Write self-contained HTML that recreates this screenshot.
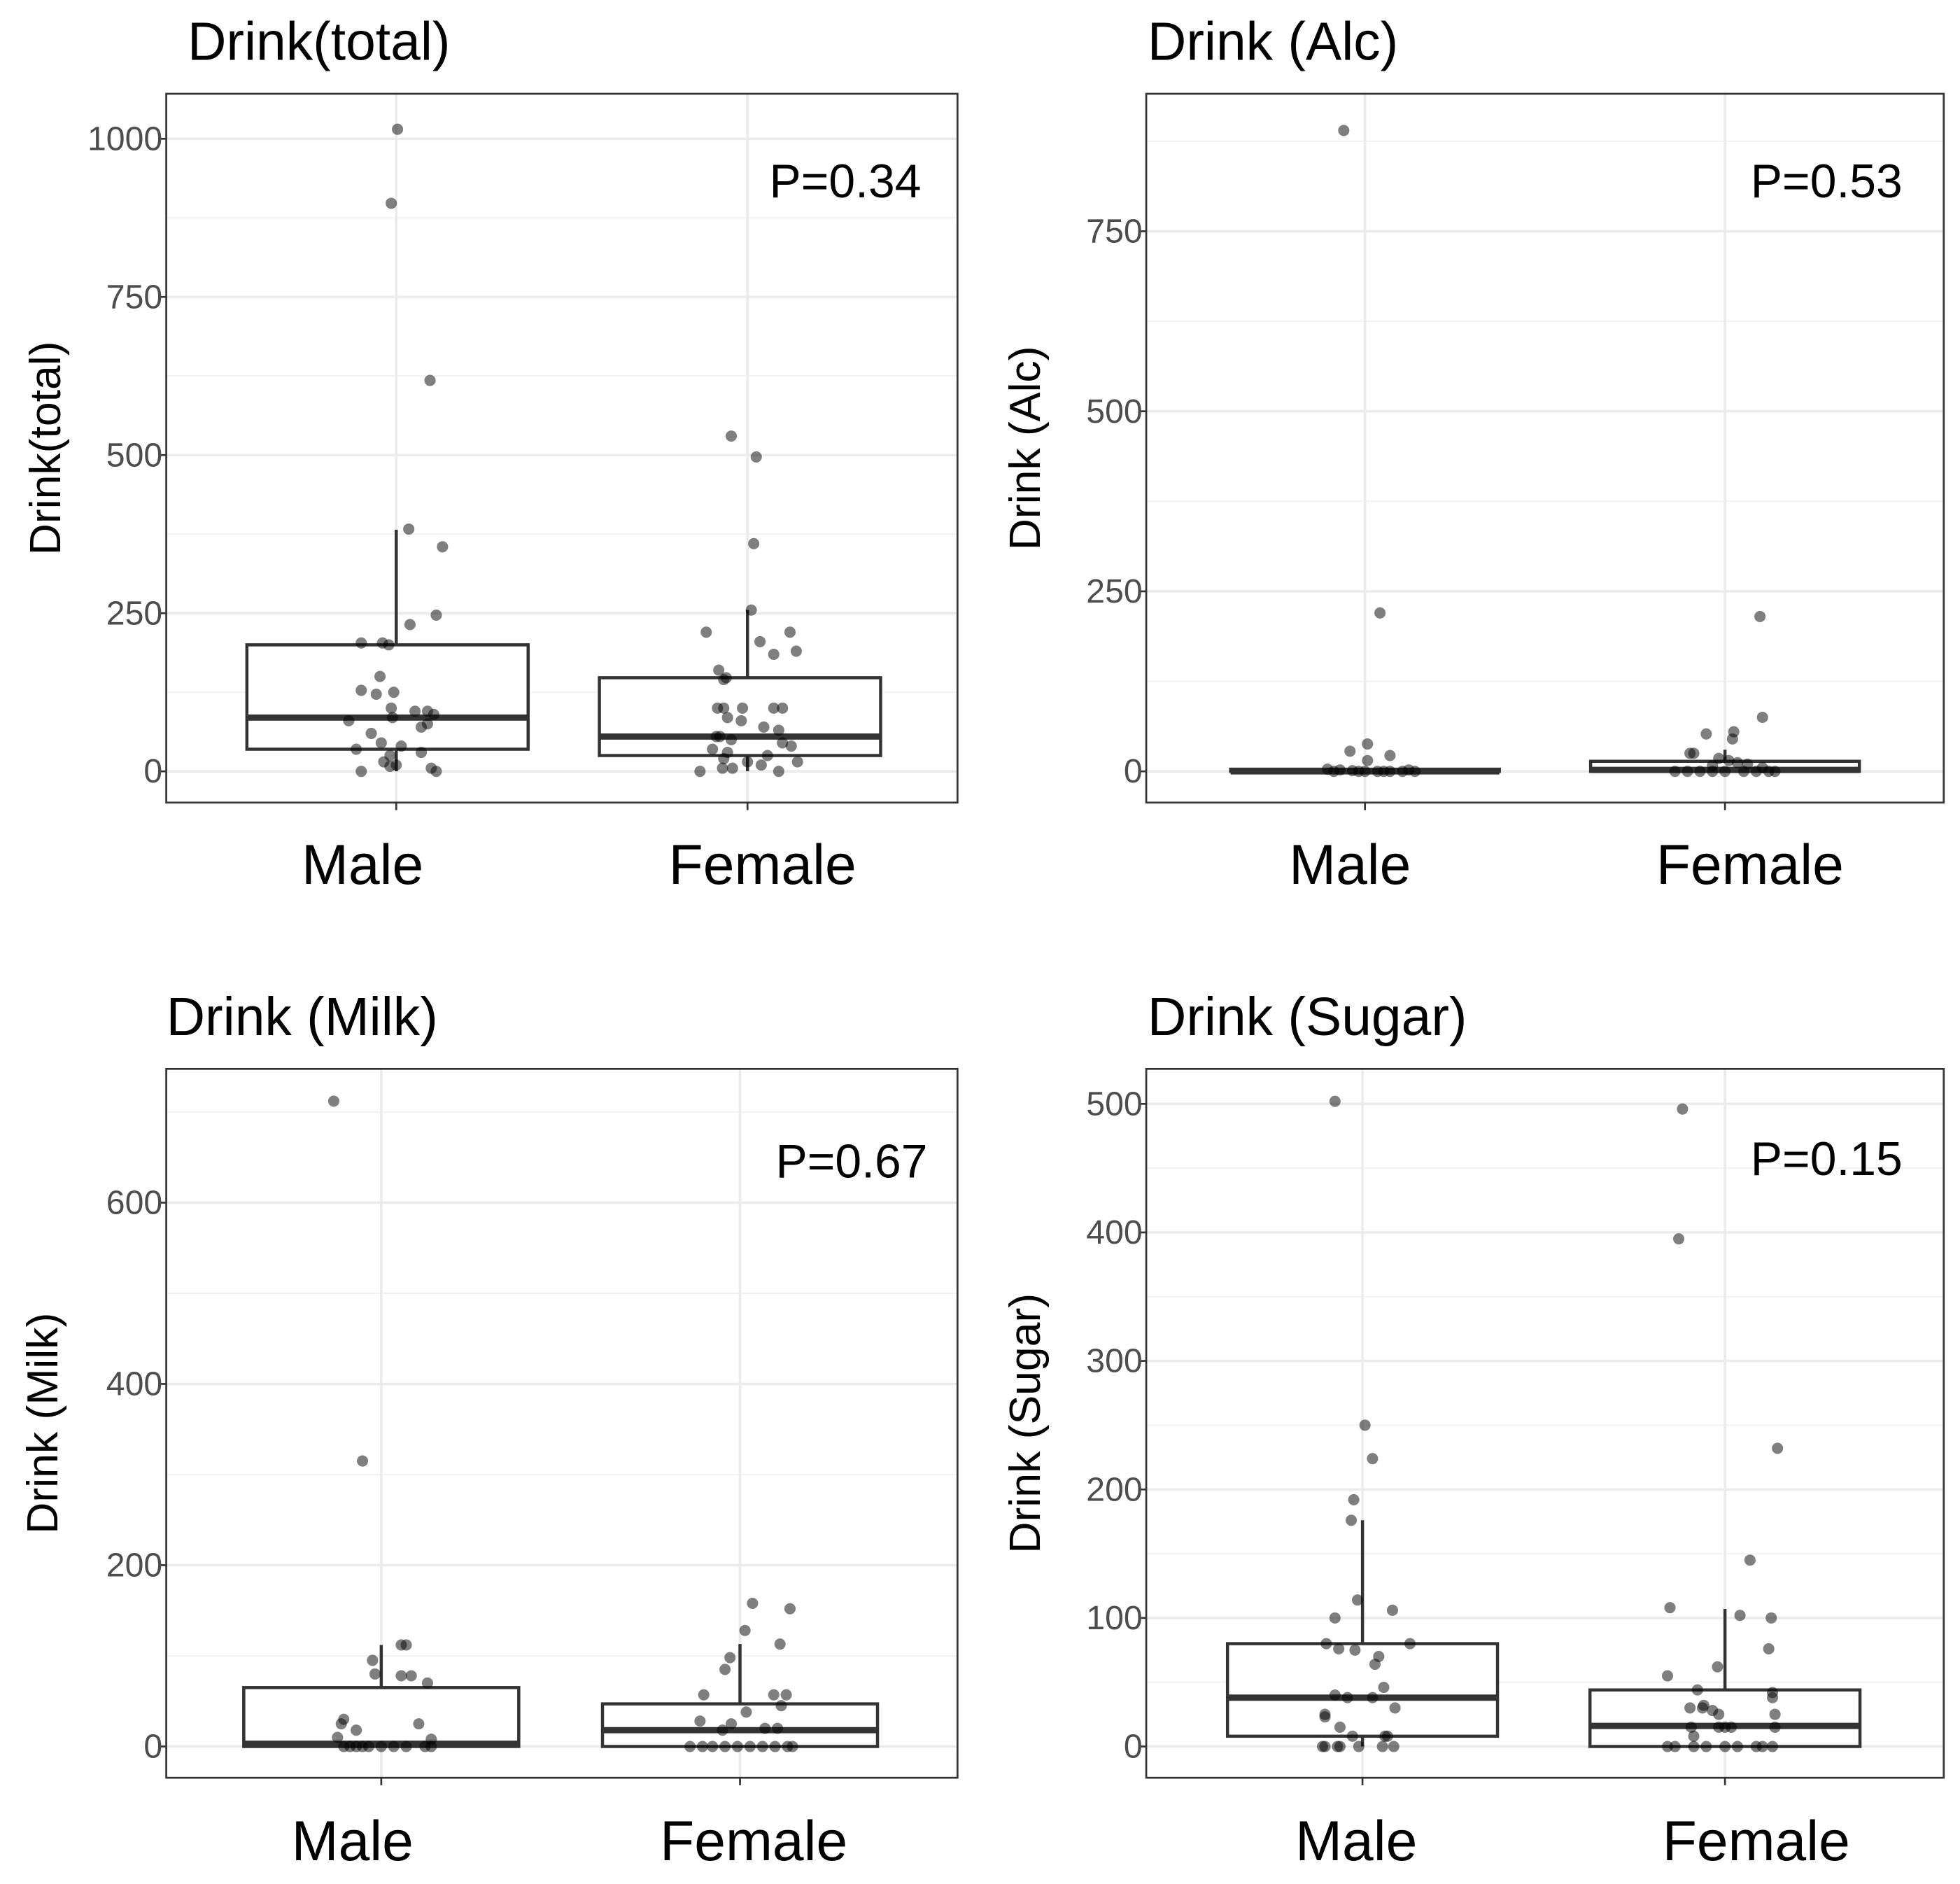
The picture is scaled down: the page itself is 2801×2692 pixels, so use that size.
<!DOCTYPE html>
<html><head><meta charset="utf-8"><style>
html,body{margin:0;padding:0;background:#fff;}
svg{display:block;font-family:"Liberation Sans",Arial,sans-serif;}
</style></head><body>
<svg id="chart" width="2801" height="2692" viewBox="0 0 1568 1507" xmlns="http://www.w3.org/2000/svg"></svg>
<script>
// ---- Data ----
const categories = ["Male","Female"];
const titles = ["Drink(total)","Drink (Alc)","Drink (Milk)","Drink (Sugar)"];
const pLabels = ["P=0.34","P=0.53","P=0.67","P=0.15"];
const ticksTotal = [0,250,500,750,1000];
const ticksAlc = [0,250,500,750];
const ticksMilk = [0,200,400,600];
const ticksSugar = [0,100,200,300,400,500];
// box stats: [lowerWhisker, q1, median, q3, upperWhisker]
const boxTotalMale = [0,35,85,200,382];
const boxTotalFemale = [0,25,55,148,255];
const boxAlcMale = [0,0,0,3,5];
const boxAlcFemale = [0,0,2,14,30];
const boxMilkMale = [0,0,3,65,112];
const boxMilkFemale = [0,0,18,47,113];
const boxSugarMale = [0,8,38,80,176];
const boxSugarFemale = [0,0,16,44,107];
// points: [value, jitter]
const ptsTotalMale = [[1015,1],[898,-4],[618,27],[383,10],[355,37],[247,32],[232,11],[203,-28],[203,-11],[200,-6],[150,-13],[128,-28],[125,-2],[122,-16],[100,-4],[95,15],[95,25],[90,30],[85,-3],[80,-38],[75,25],[70,20],[60,-20],[45,-12],[40,4],[35,-32],[30,20],[25,-5],[15,-10],[10,0],[8,-5],[5,28],[0,-28],[0,32]];
const ptsTotalFemale = [[530,-13],[497,7],[360,5],[255,3],[220,-33],[220,34],[205,10],[190,39],[185,21],[160,-23],[148,-17],[145,-19],[100,-24],[100,-19],[100,-4],[100,21],[100,28],[85,-16],[80,-5],[70,13],[65,25],[55,-25],[55,-22],[50,-13],[45,28],[40,35],[35,-28],[30,-16],[25,16],[20,-19],[15,0],[15,40],[10,11],[5,-12],[5,-20],[0,-38],[0,25]];
const ptsAlcMale = [[890,-17],[220,12],[38,2],[28,-12],[22,20],[15,2],[3,-30],[2,-20],[1,-10],[0,0],[0,10],[0,20],[0,30],[0,40],[0,-25],[0,-5],[0,15],[2,35]];
const ptsAlcFemale = [[215,28],[75,30],[55,7],[52,-15],[45,6],[25,-25],[25,-28],[18,-5],[15,3],[12,10],[10,18],[8,-10],[5,30],[0,-40],[0,-30],[0,-20],[0,-10],[0,0],[0,15],[0,25],[0,35],[0,40]];
const ptsMilkMale = [[712,-38],[315,-15],[112,16],[112,20],[95,-7],[80,-5],[78,16],[78,24],[70,37],[30,-30],[25,-32],[25,30],[18,-20],[10,-35],[8,40],[0,-30],[0,-25],[0,-20],[0,-15],[0,-10],[0,0],[0,10],[0,20],[0,35],[0,40]];
const ptsMilkFemale = [[158,10],[152,40],[128,4],[113,32],[98,-8],[85,-12],[57,-29],[57,27],[57,37],[45,33],[38,5],[28,-32],[25,-7],[20,20],[20,30],[18,-14],[0,-40],[0,-30],[0,-22],[0,-12],[0,-2],[0,8],[0,18],[0,28],[0,38],[0,42]];
const ptsSugarMale = [[502,-22],[250,2],[224,8],[192,-7],[176,-9],[114,-4],[106,24],[100,-22],[80,-29],[80,38],[76,-19],[75,-6],[70,13],[64,10],[46,17],[40,-22],[38,-12],[38,8],[30,26],[25,-30],[23,-30],[15,-18],[8,-8],[8,18],[8,20],[0,-32],[0,-30],[0,-20],[0,-18],[0,-3],[0,16],[0,25]];
const ptsSugarFemale = [[496,-34],[395,-37],[232,42],[145,20],[108,-44],[102,12],[100,37],[76,35],[62,-6],[55,-46],[44,-22],[42,38],[38,38],[32,-17],[30,-28],[30,-18],[28,-10],[25,-5],[15,-27],[15,0],[15,-5],[15,5],[15,40],[25,40],[8,-25],[0,-46],[0,-40],[0,-25],[0,-15],[0,0],[0,10],[0,25],[0,30],[0,38]];

const panels = [
 {x0:133,x1:766,y0:75,y1:642,ticks:ticksTotal,cx:[317,598],bx:[310,592],bw:225,boxes:[boxTotalMale,boxTotalFemale],pts:[ptsTotalMale,ptsTotalFemale],titleX:150,titleY:48,ytX:48,labX:[290,610],labY:707,pX:737,pY:158,yref:[617,111,1000]},
 {x0:917,x1:1555,y0:75,y1:642,ticks:ticksAlc,cx:[1092,1380],bx:[1092,1380],bw:215,boxes:[boxAlcMale,boxAlcFemale],pts:[ptsAlcMale,ptsAlcFemale],titleX:918,titleY:48,ytX:832,labX:[1080,1400],labY:707,pX:1522,pY:158,yref:[617,185,750]},
 {x0:133,x1:766,y0:855,y1:1422,ticks:ticksMilk,cx:[305,592],bx:[305,592],bw:220,boxes:[boxMilkMale,boxMilkFemale],pts:[ptsMilkMale,ptsMilkFemale],titleX:133,titleY:828,ytX:46,labX:[282,603],labY:1488,pX:742,pY:942,yref:[1397,962,600]},
 {x0:917,x1:1555,y0:855,y1:1422,ticks:ticksSugar,cx:[1090,1380],bx:[1090,1380],bw:216,boxes:[boxSugarMale,boxSugarFemale],pts:[ptsSugarMale,ptsSugarFemale],titleX:918,titleY:828,ytX:832,labX:[1085,1405],labY:1488,pX:1522,pY:940,yref:[1397,883,500]}
];
const NS="http://www.w3.org/2000/svg";
const svg=document.getElementById('chart');
function mk(tag,attrs,parent){const e=document.createElementNS(NS,tag);for(const k in attrs)e.setAttribute(k,attrs[k]);(parent||svg).appendChild(e);return e;}
panels.forEach((p,i)=>{
  const g=mk('g',{});
  
  
  const y=v=>p.yref[0]-(v)*(p.yref[0]-p.yref[1])/p.yref[2];
  const step=p.ticks[1]-p.ticks[0];
  for(let k=0;k<p.ticks.length;k++){
    const mv=p.ticks[k]+step/2;
    if(y(mv)>p.y0) { const l=mk('line',{x1:p.x0,x2:p.x1,y1:y(mv),y2:y(mv),stroke:'#f2f2f2','stroke-width':1.2},g);
       }
  }
  p.ticks.forEach(t=>{
    const l=mk('line',{x1:p.x0,x2:p.x1,y1:y(t),y2:y(t),stroke:'#ebebeb','stroke-width':2},g);
    
    const tk=mk('line',{x1:p.x0-6,x2:p.x0,y1:y(t),y2:y(t),stroke:'#333','stroke-width':1.5},g);
    
    const tx=mk('text',{x:p.x0-3,y:y(t)+9,'text-anchor':'end','font-size':27,fill:'#4d4d4d'},g);
    tx.textContent=t;
    
  });
  p.cx.forEach((cx,j)=>{
    const l=mk('line',{x1:cx,x2:cx,y1:p.y0,y2:p.y1,stroke:'#ebebeb','stroke-width':2},g);
    
    const tk=mk('line',{x1:cx,x2:cx,y1:p.y1,y2:p.y1+6,stroke:'#333','stroke-width':1.5},g);
    
    const lb=mk('text',{x:p.labX[j],y:p.labY,'text-anchor':'middle','font-size':45,fill:'#000'},g);
    lb.textContent=categories[j];
    
    const b=p.boxes[j];
    const bx=p.bx[j];
    const wl=mk('line',{x1:cx,x2:cx,y1:y(b[3]),y2:y(b[4]),stroke:'#333','stroke-width':2.5},g);
    
    const wl2=mk('line',{x1:cx,x2:cx,y1:y(b[1]),y2:y(b[0]),stroke:'#333','stroke-width':2.5},g);
    
    const r=mk('rect',{x:bx-p.bw/2,y:y(b[3]),width:p.bw,height:Math.max(y(b[1])-y(b[3]),1),fill:'#fff',stroke:'#333','stroke-width':2.5},g);
    
    const md=mk('line',{x1:bx-p.bw/2,x2:bx+p.bw/2,y1:y(b[2]),y2:y(b[2]),stroke:'#333','stroke-width':5},g);
    
  });
  p.cx.forEach((cx,j)=>{
    p.pts[j].forEach(pt=>{
      const c=mk('circle',{cx:cx+pt[1],cy:y(pt[0]),r:4.5,fill:'#000','fill-opacity':0.5},g);
      
      
    });
  });
  const br=mk('rect',{x:p.x0,y:p.y0,width:p.x1-p.x0,height:p.y1-p.y0,fill:'none',stroke:'#333','stroke-width':1.5},g);
  
  const tt=mk('text',{x:p.titleX,y:p.titleY,'font-size':43,fill:'#000'},g);
  tt.textContent=titles[i];
  
  const yc=(p.y0+p.y1)/2;
  const yt=mk('text',{x:p.ytX,y:yc,'text-anchor':'middle','font-size':35,fill:'#000',transform:'rotate(-90 '+p.ytX+' '+yc+')'},g);
  yt.textContent=titles[i];
  
  const pt=mk('text',{x:p.pX,y:p.pY,'text-anchor':'end','font-size':38,fill:'#000'},g);
  pt.textContent=pLabels[i];
  
});
</script>
</body></html>
